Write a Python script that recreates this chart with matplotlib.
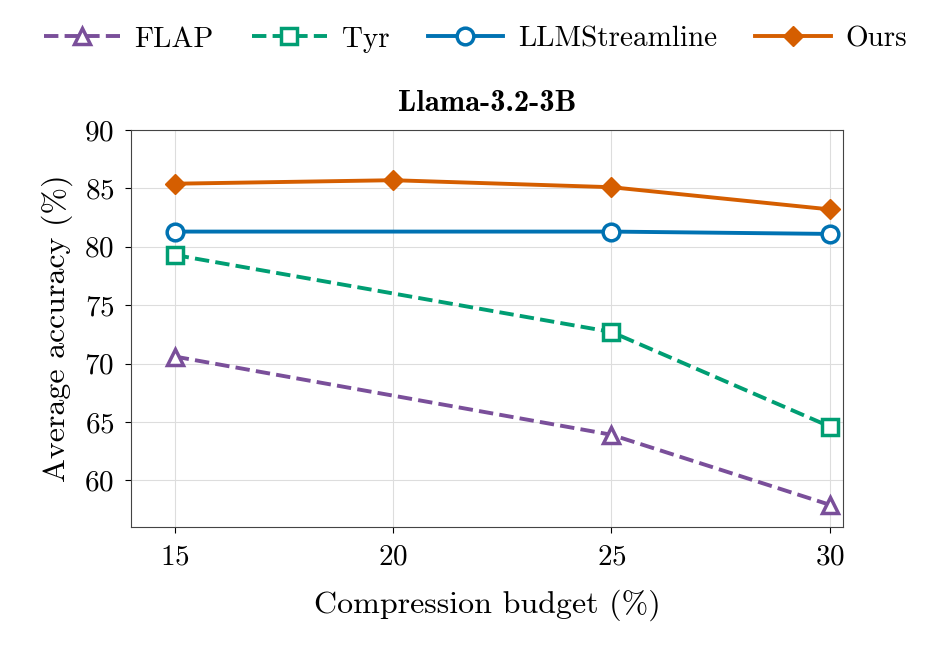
import numpy as np
import matplotlib
matplotlib.use("Agg")
import matplotlib.pyplot as plt

plt.rcParams["font.family"] = "serif"
plt.rcParams["font.serif"] = ["cmr10", "DejaVu Serif"]
plt.rcParams["mathtext.fontset"] = "cm"
plt.rcParams["axes.formatter.use_mathtext"] = True

budget_3 = [15, 25, 30]
budget_4 = [15, 20, 25, 30]
flap = [70.6, 63.9, 57.9]
tyr = [79.3, 72.7, 64.6]
streamline = [81.3, 81.3, 81.1]
ours = [85.4, 85.7, 85.1, 83.2]

fig = plt.figure(figsize=(9.51, 6.56), dpi=100)
ax = fig.add_axes([131 / 951, 1 - 527 / 656, 712 / 951, 397 / 656])

ax.plot(budget_3, flap, "--", color="#7A4F9A", lw=2.8, marker="^", ms=11,
        mfc="white", mew=2.5, label="FLAP")
ax.plot(budget_3, tyr, "--", color="#009E73", lw=2.8, marker="s", ms=11,
        mfc="white", mew=2.5, label="Tyr")
ax.plot(budget_3, streamline, "-", color="#0072B2", lw=2.8, marker="o", ms=12,
        mfc="white", mew=2.5, label="LLMStreamline")
ax.plot(budget_4, ours, "-", color="#D55E00", lw=2.8, marker="D", ms=10,
        label="Ours")

ax.set_xlim(14.0, 30.3)
ax.set_ylim(56, 90)
ax.set_xticks([15, 20, 25, 30])
ax.set_yticks([60, 65, 70, 75, 80, 85, 90])
ax.grid(color="#dddddd", lw=0.8)
ax.set_axisbelow(True)
ax.tick_params(labelsize=21, direction="out", length=4, pad=8)
for s in ax.spines.values():
    s.set_color("#444444")
ax.set_xlabel("Compression budget (%)", fontsize=23, labelpad=14)
ax.set_ylabel("Average accuracy (%)", fontsize=23, labelpad=8)
ax.set_title("Llama-3.2-3B", fontsize=22, fontweight="bold",
             family=["cmb10", "DejaVu Serif"], pad=14)

fig.legend(loc="upper center", bbox_to_anchor=(0.5, 1.0), ncol=4, frameon=False,
           fontsize=21, handlelength=2.6, columnspacing=1.3, handletextpad=0.5)

fig.savefig("out.png", dpi=100)
